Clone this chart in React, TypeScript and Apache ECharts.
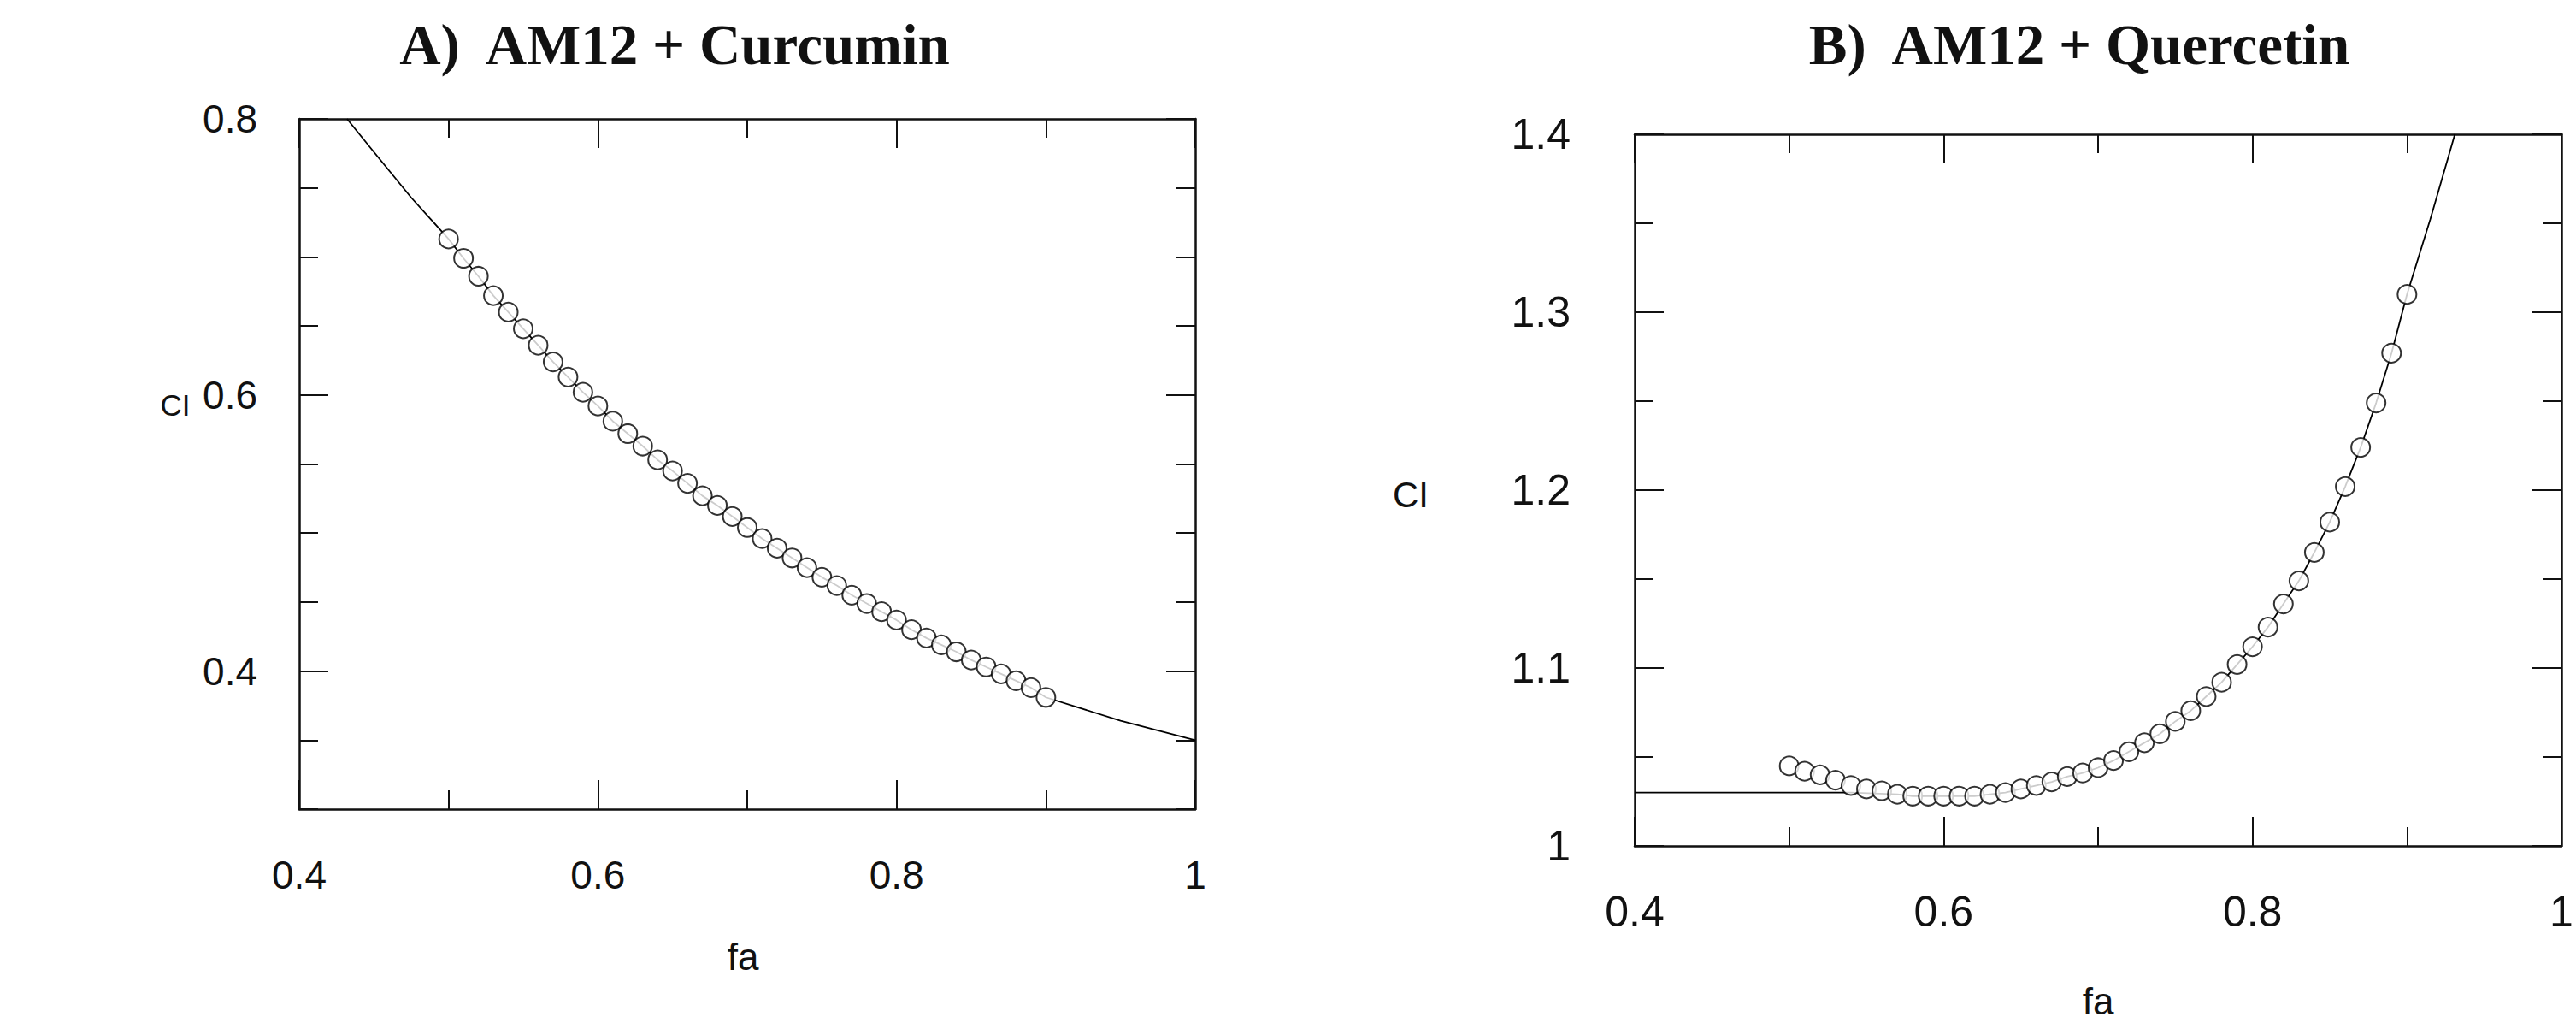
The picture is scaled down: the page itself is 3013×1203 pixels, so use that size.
import React, { useEffect, useRef } from "react";
import * as echarts from "echarts";

// fraction affected (x) for the data points, both panels
const FA = [
  0.5, 0.51, 0.52, 0.53, 0.54, 0.55, 0.56, 0.57, 0.58, 0.59, 0.6, 0.61, 0.62, 0.63,
  0.64, 0.65, 0.66, 0.67, 0.68, 0.69, 0.7, 0.71, 0.72, 0.73, 0.74, 0.75, 0.76, 0.77,
  0.78, 0.79, 0.8, 0.81, 0.82, 0.83, 0.84, 0.85, 0.86, 0.87, 0.88, 0.89, 0.9,
];

// Panel A: AM12 + Curcumin, CI values
const CI_A = [
  0.713, 0.699, 0.686, 0.672, 0.66, 0.648, 0.636, 0.624, 0.613, 0.602, 0.592, 0.581,
  0.572, 0.563, 0.553, 0.545, 0.536, 0.527, 0.52, 0.512, 0.504, 0.496, 0.489, 0.482,
  0.475, 0.468, 0.462, 0.455, 0.449, 0.443, 0.437, 0.43, 0.424, 0.419, 0.414, 0.408,
  0.403, 0.398, 0.393, 0.388, 0.381,
];
// Panel A fitted curve beyond the points
const CURVE_A_HEAD = [[0.432, 0.8], [0.45, 0.776], [0.475, 0.743]];
const CURVE_A_TAIL = [[0.95, 0.364], [1.0, 0.35]];

// Panel B: AM12 + Quercetin, CI values
const CI_B = [
  1.045, 1.042, 1.04, 1.037, 1.034, 1.032, 1.031, 1.029, 1.028, 1.028, 1.028, 1.028,
  1.028, 1.029, 1.03, 1.032, 1.034, 1.036, 1.039, 1.041, 1.044, 1.048, 1.053, 1.058,
  1.063, 1.07, 1.076, 1.084, 1.092, 1.102, 1.112, 1.123, 1.136, 1.149, 1.165, 1.182,
  1.202, 1.224, 1.249, 1.277, 1.31,
];
const CURVE_B_HEAD = [[0.4, 1.03], [0.54, 1.03]];
const CURVE_B_START = 0.57;
const CURVE_B_TAIL = [[0.915, 1.352], [0.931, 1.4]];

// axis ticks / labels
const X_MAJOR = [0.4, 0.6, 0.8, 1];
const X_MINOR = [0.5, 0.7, 0.9];
const YA_MAJOR = [0.4, 0.6, 0.8];
const YA_MINOR = [0.3, 0.35, 0.45, 0.5, 0.55, 0.65, 0.7, 0.75];
const YB_MAJOR = [1, 1.1, 1.2, 1.3, 1.4];
const YB_MINOR = [1.05, 1.15, 1.25, 1.35];

const TITLE_A = "A)  AM12 + Curcumin";
const TITLE_B = "B)  AM12 + Quercetin";

const SANS = "'Liberation Sans', Arial, Helvetica, sans-serif";
const SERIF = "'Liberation Serif', 'Times New Roman', serif";
const INK = "#111";

function makeAxes(
  dim: "x" | "y",
  gridIndex: number,
  min: number,
  max: number,
  majors: number[],
  minors: number[],
  labelMargin: number,
  fontSize: number
) {
  const posA = dim === "x" ? "bottom" : "left";
  const posB = dim === "x" ? "top" : "right";
  const base = {
    type: "value",
    gridIndex,
    min,
    max,
    splitLine: { show: false },
    axisPointer: { show: false },
  };
  const major = (position: string, labels: boolean, line: boolean) => ({
    ...base,
    position,
    axisLine: { show: line, onZero: false, lineStyle: { color: INK, width: 2.5 } },
    axisTick: {
      show: true,
      inside: true,
      length: 34,
      customValues: majors,
      lineStyle: { color: INK, width: 2 },
    },
    axisLabel: {
      show: labels,
      customValues: majors,
      showMinLabel: true,
      showMaxLabel: true,
      margin: labelMargin,
      color: INK,
      fontSize,
      fontFamily: SANS,
    },
  });
  const minor = (position: string) => ({
    ...base,
    position,
    axisLine: { show: false, onZero: false },
    axisTick: {
      show: true,
      inside: true,
      length: 22,
      customValues: minors,
      lineStyle: { color: INK, width: 2 },
    },
    axisLabel: { show: false },
  });
  return [major(posA, true, true), minor(posA), major(posB, false, true), minor(posB)];
}

function pairs(xs: number[], ys: number[]) {
  return xs.map((x, i) => [x, ys[i]]);
}

export default function App() {
  const ref = useRef<HTMLDivElement>(null);

  useEffect(() => {
    document.body.style.margin = "0";
    document.body.style.overflow = "hidden";
    if (!ref.current) return;
    const chart = echarts.init(ref.current, undefined, { renderer: "svg" });

    const ptsA = pairs(FA, CI_A);
    const ptsB = pairs(FA, CI_B);
    const curveA = [...CURVE_A_HEAD, ...ptsA, ...CURVE_A_TAIL];
    const curveB = [
      ...CURVE_B_HEAD,
      ...ptsB.filter((p) => p[0] >= CURVE_B_START),
      ...CURVE_B_TAIL,
    ];

    const xAxis = [
      ...makeAxes("x", 0, 0.4, 1, X_MAJOR, X_MINOR, 54, 46),
      ...makeAxes("x", 1, 0.4, 1, X_MAJOR, X_MINOR, 52, 50),
    ];
    const yAxis = [
      ...makeAxes("y", 0, 0.3, 0.8, YA_MAJOR, YA_MINOR, 49, 46),
      ...makeAxes("y", 1, 1, 1.4, YB_MAJOR, YB_MINOR, 75, 50),
    ];

    const lineStyle = { color: "#000", width: 1.8 };
    const circle = {
      symbol: "circle",
      symbolSize: 22,
      itemStyle: { color: "#fff", borderColor: "#000", borderWidth: 2 },
    };

    const text = (x: number, y: number, t: string, font: string) => ({
      type: "text",
      x,
      y,
      style: { text: t, font, fill: INK, align: "center", verticalAlign: "middle" },
    });

    chart.setOption({
      animation: false,
      backgroundColor: "#fff",
      grid: [
        { left: 350, top: 139, width: 1048, height: 807, containLabel: false },
        { left: 1912, top: 157, width: 1084, height: 832, containLabel: false },
      ],
      xAxis,
      yAxis,
      series: [
        {
          type: "line",
          name: "curve A",
          xAxisIndex: 0,
          yAxisIndex: 0,
          data: curveA,
          showSymbol: false,
          lineStyle,
          z: 2,
        },
        {
          type: "scatter",
          name: "AM12 + Curcumin",
          xAxisIndex: 0,
          yAxisIndex: 0,
          data: ptsA,
          ...circle,
          z: 3,
        },
        {
          type: "line",
          name: "curve B",
          xAxisIndex: 4,
          yAxisIndex: 4,
          data: curveB,
          showSymbol: false,
          lineStyle,
          z: 2,
        },
        {
          type: "scatter",
          name: "AM12 + Quercetin",
          xAxisIndex: 4,
          yAxisIndex: 4,
          data: ptsB,
          ...circle,
          z: 3,
        },
      ],
      graphic: [
        text(789, 52, TITLE_A, `bold 67px ${SERIF}`),
        text(2432, 52, TITLE_B, `bold 67px ${SERIF}`),
        text(205, 473, "CI", `35px ${SANS}`),
        text(869, 1118, "fa", `44px ${SANS}`),
        text(1650, 578, "CI", `42px ${SANS}`),
        text(2454, 1170, "fa", `44px ${SANS}`),
      ],
    });

    return () => chart.dispose();
  }, []);

  return <div ref={ref} style={{ width: 3013, height: 1203 }} />;
}
